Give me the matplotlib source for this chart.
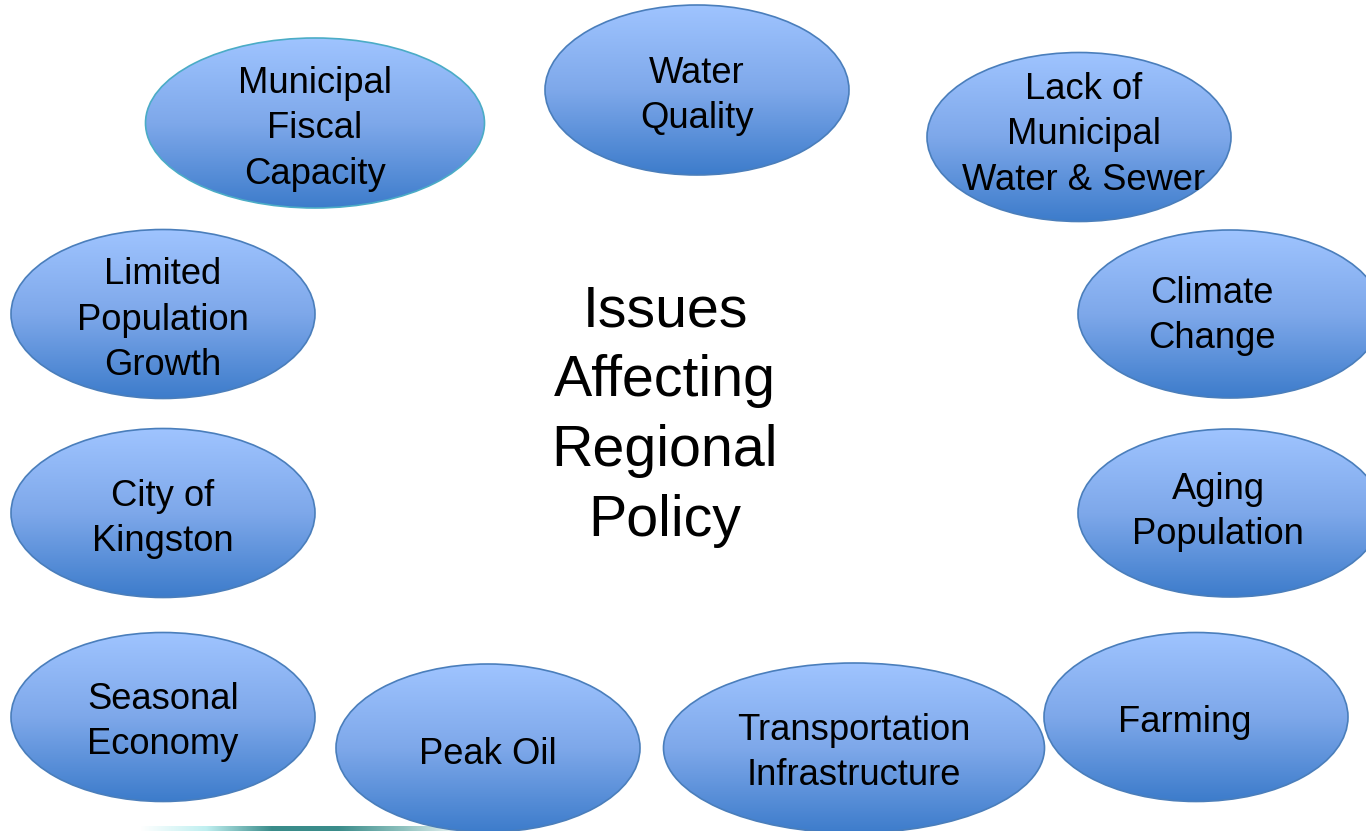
import numpy as np
import matplotlib
matplotlib.use("Agg")
import matplotlib.pyplot as plt
from matplotlib.patches import Ellipse
from matplotlib.colors import LinearSegmentedColormap

plt.rcParams['font.family'] = ['Liberation Sans', 'DejaVu Sans']

# topic labels around the centre title
labels = [
    "Municipal\nFiscal\nCapacity",
    "Water\nQuality",
    "Lack of\nMunicipal\nWater & Sewer",
    "Climate\nChange",
    "Aging\nPopulation",
    "Farming",
    "Transportation\nInfrastructure",
    "Peak Oil",
    "Seasonal\nEconomy",
    "City of\nKingston",
    "Limited\nPopulation\nGrowth",
]
title = "Issues\nAffecting\nRegional\nPolicy"

# layout (pixel coords, y down)
centers = [(315, 123), (697, 90), (1079, 137), (1230, 314), (1230, 513),
           (1196, 717), (854, 748), (488, 748), (163, 717), (163, 513), (163, 314)]
widths = [339, 304, 304, 304, 304, 304, 381, 304, 304, 304, 304]
heights = [170, 170, 169, 168, 168, 169, 170, 168, 169, 169, 169]
text_pos = [(315, 129), (697, 96), (1084, 135), (1212, 316), (1218, 512),
            (1185, 723), (854, 753), (488, 754), (163, 722), (163, 519), (163, 320)]
edges = ["#4bacc6"] + ["#4a7ebb"] * 10

W, H = 1366, 831
fig = plt.figure(figsize=(W / 100, H / 100), dpi=100)
ax = fig.add_axes([0, 0, 1, 1])
ax.set_xlim(0, W)
ax.set_ylim(H, 0)
ax.axis("off")

grad = LinearSegmentedColormap.from_list("g", ["#9fc4ff", "#7ea8ea", "#3d7ccb"])
col = np.linspace(0, 1, 256).reshape(-1, 1)

# small teal rule at bottom left
strip = LinearSegmentedColormap.from_list(
    "s", ["#ffffff", "#bfeff0", "#3a8c8a", "#3a8c8a", "#8fc2bf", "#ffffff"])
ax.imshow(np.linspace(0, 1, 256).reshape(1, -1), cmap=strip, aspect="auto",
          extent=(140, 470, 831, 826), zorder=1)

for (cx, cy), w, h, ec, lab, (tx, ty) in zip(centers, widths, heights, edges, labels, text_pos):
    e = Ellipse((cx, cy), w, h, facecolor="none", edgecolor=ec, lw=1.2, zorder=3)
    ax.add_patch(e)
    im = ax.imshow(col, cmap=grad, aspect="auto",
                   extent=(cx - w / 2, cx + w / 2, cy + h / 2, cy - h / 2), zorder=2)
    im.set_clip_path(e)
    ax.text(tx, ty, lab, ha="center", va="center", fontsize=26.2,
            linespacing=1.4, color="black", zorder=4)

ax.text(665, 416, title, ha="center", va="center", fontsize=41.3,
        linespacing=1.38, color="black", zorder=4)

ax.set_xlim(0, W)
ax.set_ylim(H, 0)
fig.savefig("out.png", dpi=100)
